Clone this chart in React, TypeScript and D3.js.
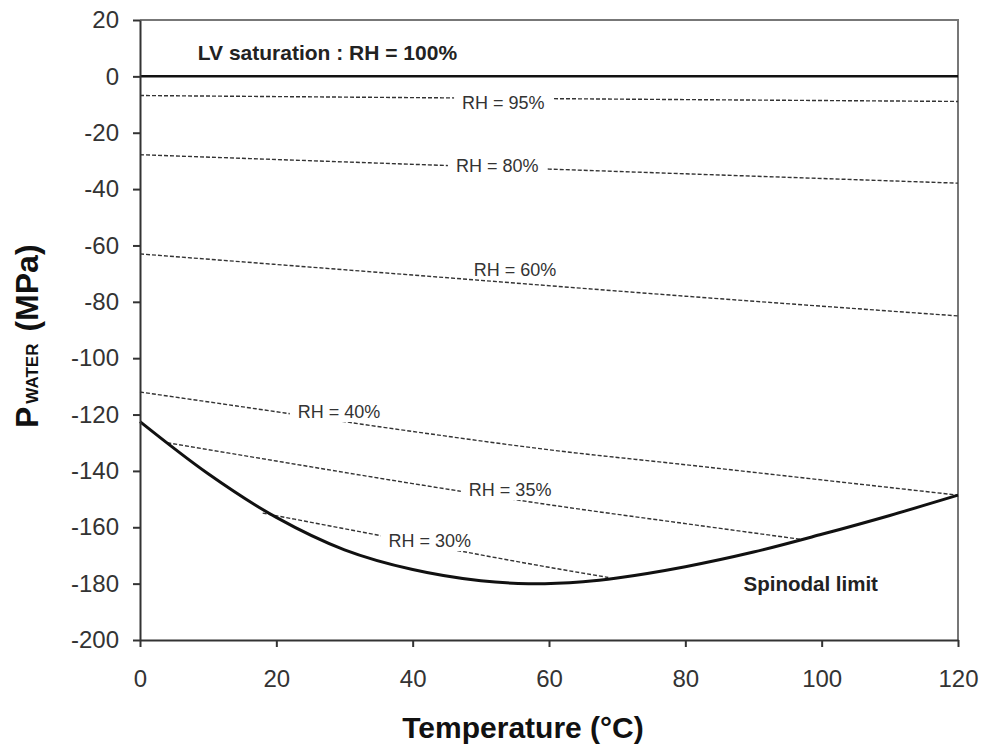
// App.tsx
import React, { useEffect, useRef } from 'react';
import * as d3 from 'd3';

// Spinodal limit (solid curve)
const spinodalT = [0, 10, 20, 30, 40, 50, 57, 65, 70, 80, 90, 100, 110, 120];
const spinodalP = [-122.5, -141, -156.5, -168, -175, -179, -180, -179.3, -178, -174, -168.8, -162.5, -155.8, -148.6];

// Iso-RH lines (dashed)
const rh95T = [0, 60, 120];
const rh95P = [-6.8, -7.9, -8.9];
const rh80T = [0, 60, 120];
const rh80P = [-27.8, -32.9, -37.9];
const rh60T = [0, 40, 80, 120];
const rh60P = [-63, -70.5, -78, -85];
const rh40T = [0, 20, 40, 60, 80, 100, 120];
const rh40P = [-112, -119, -126, -132.5, -137.8, -143.2, -148.6];
const rh35T = [4, 20, 40, 60, 80, 97];
const rh35P = [-130, -136.5, -144.5, -152, -158.7, -164.3];
const rh30T = [18, 30, 40, 50, 60, 68.7];
const rh30P = [-155, -160.5, -165.2, -169.8, -174.2, -177.8];

// Label anchors in data units
const rhLabels = ['RH = 95%', 'RH = 80%', 'RH = 60%', 'RH = 40%', 'RH = 35%', 'RH = 30%'];
const rhLabelT = [53.3, 52.4, 55, 29.2, 54.3, 42.5];
const rhLabelP = [-9.6, -31.8, -68.8, -119.1, -146.8, -164.9];
const rhLabelKnockout = [true, true, false, true, true, true];

const xTicks = [0, 20, 40, 60, 80, 100, 120];
const yTicks = [20, 0, -20, -40, -60, -80, -100, -120, -140, -160, -180, -200];

const FONT = '"Liberation Sans", Arial, sans-serif';

const Chart: React.FC = () => {
  const svgRef = useRef<SVGSVGElement>(null);

  useEffect(() => {
    const width = 987;
    const height = 749;
    const m = { left: 140, right: 29, top: 20, bottom: 109 };

    const svg = d3.select(svgRef.current).attr('width', width).attr('height', height);
    svg.selectAll('*').remove();

    const x = d3.scaleLinear().domain([0, 120]).range([m.left, width - m.right]);
    const y = d3.scaleLinear().domain([-200, 20]).range([height - m.bottom, m.top]);

    svg.append('rect').attr('width', width).attr('height', height).attr('fill', '#fff');

    // frame top/right
    svg.append('path')
      .attr('d', `M${x(0)},${y(20)}H${x(120)}V${y(-200)}`)
      .attr('fill', 'none').attr('stroke', '#777').attr('stroke-width', 2);

    const line = d3.line<[number, number]>().x(d => x(d[0])).y(d => y(d[1]));
    const smooth = d3.line<[number, number]>().x(d => x(d[0])).y(d => y(d[1])).curve(d3.curveMonotoneX);

    const zip = (a: number[], b: number[]) => a.map((v, i) => [v, b[i]] as [number, number]);

    // saturation line
    svg.append('path').attr('d', line([[0, 0], [120, 0]]))
      .attr('stroke', '#111').attr('stroke-width', 2.5).attr('fill', 'none');

    const rhSeries = [
      zip(rh95T, rh95P), zip(rh80T, rh80P), zip(rh60T, rh60P),
      zip(rh40T, rh40P), zip(rh35T, rh35P), zip(rh30T, rh30P),
    ];
    svg.append('g').selectAll('path').data(rhSeries).enter().append('path')
      .attr('d', d => smooth(d))
      .attr('fill', 'none').attr('stroke', '#333').attr('stroke-width', 1.4)
      .attr('stroke-dasharray', '4,2');

    // spinodal
    svg.append('path')
      .attr('d', d3.line<[number, number]>().x(d => x(d[0])).y(d => y(d[1])).curve(d3.curveCatmullRom)(zip(spinodalT, spinodalP)))
      .attr('fill', 'none').attr('stroke', '#111').attr('stroke-width', 3);

    // RH labels, white boxes break the dashed lines
    rhLabels.forEach((t, i) => {
      const g = svg.append('g');
      const txt = g.append('text')
        .attr('x', x(rhLabelT[i])).attr('y', y(rhLabelP[i]))
        .attr('text-anchor', 'middle').attr('dominant-baseline', 'central')
        .attr('font-family', FONT).attr('font-size', 18).attr('fill', '#333')
        .text(t);
      if (rhLabelKnockout[i]) {
        const bb = (txt.node() as SVGTextElement).getBBox();
        g.insert('rect', 'text')
          .attr('x', bb.x - 8).attr('y', bb.y)
          .attr('width', bb.width + 16).attr('height', bb.height)
          .attr('fill', '#fff');
      }
    });

    svg.append('text')
      .attr('x', x(27.5)).attr('y', y(8.6))
      .attr('text-anchor', 'middle').attr('dominant-baseline', 'central')
      .attr('font-family', FONT).attr('font-size', 21).attr('font-weight', 'bold').attr('fill', '#222')
      .text('LV saturation : RH = 100%');

    svg.append('text')
      .attr('x', x(98.4)).attr('y', y(-179.8))
      .attr('text-anchor', 'middle').attr('dominant-baseline', 'central')
      .attr('font-family', FONT).attr('font-size', 20.5).attr('font-weight', 'bold').attr('fill', '#222')
      .text('Spinodal limit');

    // axes
    const xAxis = svg.append('g')
      .attr('transform', `translate(0,${y(-200)})`)
      .call(d3.axisBottom(x).tickValues(xTicks).tickFormat(d => `${d}`).tickSize(7).tickSizeOuter(0).tickPadding(23));
    const yAxis = svg.append('g')
      .attr('transform', `translate(${x(0)},0)`)
      .call(d3.axisLeft(y).tickValues(yTicks).tickFormat(d => `${d}`).tickSize(7).tickSizeOuter(0).tickPadding(14));
    [xAxis, yAxis].forEach(a => {
      a.selectAll('path, line').attr('stroke', '#333').attr('stroke-width', 2);
      a.selectAll('text').attr('font-family', FONT).attr('font-size', 24).attr('fill', '#333');
    });

    // axis titles
    svg.append('text')
      .attr('x', 523).attr('y', 738)
      .attr('text-anchor', 'middle')
      .attr('font-family', FONT).attr('font-size', 30).attr('font-weight', 'bold').attr('fill', '#111')
      .text('Temperature (°C)');

    const yt = svg.append('text')
      .attr('transform', `translate(38,428) rotate(-90)`)
      .attr('text-anchor', 'start')
      .attr('font-family', FONT).attr('font-weight', 'bold').attr('fill', '#111');
    yt.append('tspan').attr('font-size', 32).text('P');
    yt.append('tspan').attr('font-size', 17).attr('dx', 3).text('WATER');
    yt.append('tspan').attr('font-size', 32).attr('dx', 12).text('(MPa)');
  }, []);

  return <svg ref={svgRef} style={{ position: 'absolute', left: 0, top: 0 }}></svg>;
};

const App: React.FC = () => <Chart />;

export default App;
